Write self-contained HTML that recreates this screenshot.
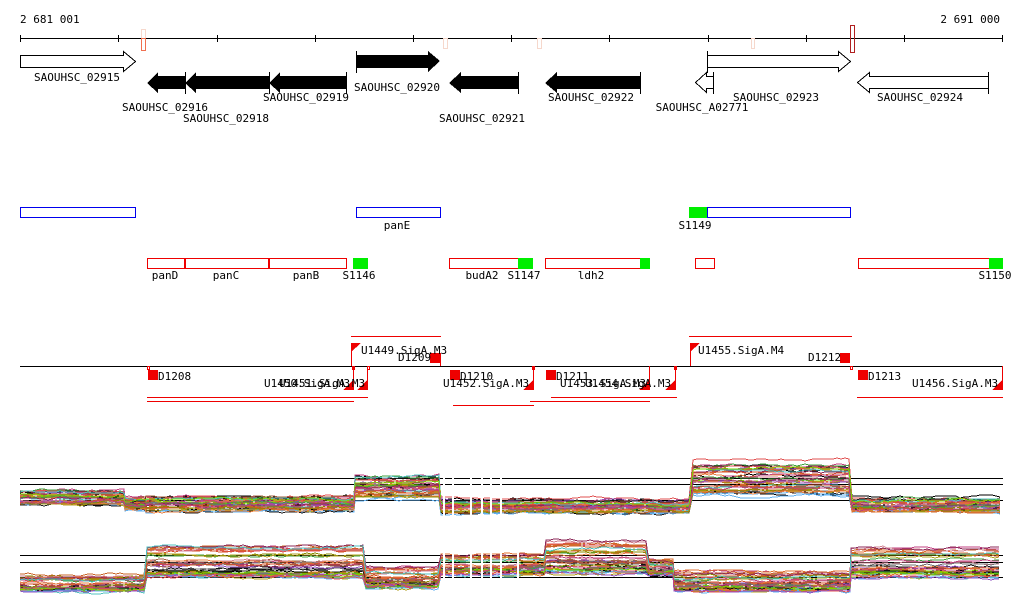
<!DOCTYPE html>
<html><head><meta charset="utf-8"><style>
html,body{margin:0;padding:0;background:#fff;width:1024px;height:611px;overflow:hidden}
svg{display:block}
text{font-family:"DejaVu Sans Mono","Liberation Mono",monospace;font-size:11px;fill:#000}
</style></head><body>
<svg id="s" width="1024" height="611" viewBox="0 0 1024 611" xmlns="http://www.w3.org/2000/svg" shape-rendering="crispEdges">
<text x="20" y="23">2 681 001</text>
<text x="1000" y="23" text-anchor="end">2 691 000</text>
<line x1="20" y1="38.5" x2="1003" y2="38.5" stroke="#000"/>
<g stroke="#000">
<line x1="20.5" y1="35" x2="20.5" y2="42"/><line x1="118.5" y1="35" x2="118.5" y2="42"/><line x1="217.5" y1="35" x2="217.5" y2="42"/><line x1="315.5" y1="35" x2="315.5" y2="42"/><line x1="413.5" y1="35" x2="413.5" y2="42"/><line x1="511.5" y1="35" x2="511.5" y2="42"/><line x1="609.5" y1="35" x2="609.5" y2="42"/><line x1="708.5" y1="35" x2="708.5" y2="42"/><line x1="806.5" y1="35" x2="806.5" y2="42"/><line x1="904.5" y1="35" x2="904.5" y2="42"/><line x1="1002.5" y1="35" x2="1002.5" y2="42"/>
</g>
<rect x="141.5" y="29.5" width="4" height="21" fill="none" stroke="#f6d8cc"/>
<rect x="141.5" y="38.5" width="4" height="12" fill="none" stroke="#f07050"/>
<rect x="443.5" y="38.5" width="4" height="10" fill="none" stroke="#f6d8cc"/>
<rect x="537.5" y="38.5" width="4" height="10" fill="none" stroke="#f6d8cc"/>
<rect x="751.5" y="38.5" width="3" height="10" fill="none" stroke="#f6d8cc"/>
<rect x="850.5" y="25.5" width="4" height="27" fill="none" stroke="#b02020"/>
<g stroke="#000" fill="#fff">
<polygon points="20.5,55.5 123.5,55.5 123.5,51.5 135.5,61.5 123.5,71.5 123.5,67.5 20.5,67.5"/>
<polygon points="707.5,55.5 838.5,55.5 838.5,51.5 850.5,61.5 838.5,71.5 838.5,67.5 707.5,67.5"/>
<polygon points="713.5,76.5 706.5,76.5 706.5,72.5 695.5,82.5 706.5,92.5 706.5,88.5 713.5,88.5"/>
<polygon points="988.5,76.5 869.5,76.5 869.5,72.5 857.5,82.5 869.5,92.5 869.5,88.5 988.5,88.5"/>
</g>
<g fill="#000">
<polygon points="356,55 428,55 428,51 440,61 428,72 428,68 356,68"/>
<polygon points="185,76 158,76 158,72 147,83 158,93 158,89 185,89"/>
<polygon points="269,76 196,76 196,72 185,83 196,93 196,89 269,89"/>
<polygon points="346,76 280,76 280,72 269,83 280,93 280,89 346,89"/>
<polygon points="518,76 461,76 461,72 449,83 461,93 461,89 518,89"/>
<polygon points="640,76 557,76 557,72 545,83 557,93 557,89 640,89"/>
</g>
<g stroke="#000">
<line x1="356.5" y1="51" x2="356.5" y2="73"/><line x1="707.5" y1="51" x2="707.5" y2="73"/><line x1="713.5" y1="72" x2="713.5" y2="94"/>
<line x1="346.5" y1="72" x2="346.5" y2="94"/><line x1="518.5" y1="72" x2="518.5" y2="94"/><line x1="640.5" y1="72" x2="640.5" y2="94"/><line x1="988.5" y1="72" x2="988.5" y2="94"/>
<line x1="185.5" y1="72" x2="185.5" y2="94"/><line x1="269.5" y1="72" x2="269.5" y2="94"/>
</g>
<g text-anchor="middle">
<text x="77" y="81">SAOUHSC_02915</text>
<text x="165" y="111">SAOUHSC_02916</text>
<text x="226" y="122">SAOUHSC_02918</text>
<text x="306" y="101">SAOUHSC_02919</text>
<text x="397" y="91">SAOUHSC_02920</text>
<text x="482" y="122">SAOUHSC_02921</text>
<text x="591" y="101">SAOUHSC_02922</text>
<text x="702" y="111">SAOUHSC_A02771</text>
<text x="776" y="101">SAOUHSC_02923</text>
<text x="920" y="101">SAOUHSC_02924</text>
</g>
<g fill="none" stroke="#0000ee">
<rect x="20.5" y="207.5" width="115" height="10"/>
<rect x="356.5" y="207.5" width="84" height="10"/>
<rect x="707.5" y="207.5" width="143" height="10"/>
</g>
<rect x="689" y="207" width="18" height="11" fill="#00ee00"/>
<g fill="none" stroke="#ee0000">
<rect x="147.5" y="258.5" width="37" height="10"/><rect x="185.5" y="258.5" width="83" height="10"/><rect x="269.5" y="258.5" width="77" height="10"/>
<rect x="449.5" y="258.5" width="69" height="10"/><rect x="545.5" y="258.5" width="95" height="10"/>
<rect x="695.5" y="258.5" width="19" height="10"/><rect x="858.5" y="258.5" width="131" height="10"/>
</g>
<g fill="#00ee00">
<rect x="353" y="258" width="15" height="11"/><rect x="518" y="258" width="15" height="11"/><rect x="640" y="258" width="10" height="11"/><rect x="989" y="258" width="14" height="11"/>
</g>
<g text-anchor="middle">
<text x="397" y="229">panE</text><text x="695" y="229">S1149</text>
<text x="165" y="279">panD</text><text x="226" y="279">panC</text><text x="306" y="279">panB</text><text x="359" y="279">S1146</text>
<text x="482" y="279">budA2</text><text x="524" y="279">S1147</text><text x="591" y="279">ldh2</text><text x="995" y="279">S1150</text>
</g>
<line x1="20" y1="366.5" x2="1003" y2="366.5" stroke="#000"/>
<g stroke="#ee0000" fill="none">
<line x1="351" y1="336.5" x2="441" y2="336.5"/><line x1="689" y1="336.5" x2="852" y2="336.5"/>
<line x1="147" y1="397.5" x2="368" y2="397.5"/><line x1="147" y1="401.5" x2="354" y2="401.5"/>
<line x1="453" y1="405.5" x2="534" y2="405.5"/><line x1="551" y1="397.5" x2="677" y2="397.5"/><line x1="530" y1="401.5" x2="650" y2="401.5"/>
<line x1="857" y1="397.5" x2="1003" y2="397.5"/>
<line x1="351.5" y1="345" x2="351.5" y2="366"/><line x1="440.5" y1="353" x2="440.5" y2="366"/>
<line x1="690.5" y1="345" x2="690.5" y2="366"/>
<line x1="353.5" y1="366" x2="353.5" y2="390"/><line x1="367.5" y1="366" x2="367.5" y2="390"/>
<line x1="533.5" y1="366" x2="533.5" y2="390"/><line x1="649.5" y1="366" x2="649.5" y2="390"/><line x1="675.5" y1="366" x2="675.5" y2="390"/><line x1="1002.5" y1="366" x2="1002.5" y2="390"/>
<rect x="147.5" y="366.5" width="2" height="3"/><rect x="367.5" y="366.5" width="2" height="3"/><rect x="850.5" y="366.5" width="2" height="3"/><rect x="674.5" y="366.5" width="2" height="3"/>
</g>
<g fill="#ee0000">
<rect x="148" y="370" width="10" height="10"/><rect x="430" y="353" width="10" height="10"/><rect x="450" y="370" width="10" height="10"/>
<rect x="546" y="370" width="10" height="10"/><rect x="840" y="353" width="10" height="10"/><rect x="858" y="370" width="10" height="10"/>
<polygon points="351,343 361,343 351,352"/><polygon points="690,343 700,343 690,352"/>
<polygon points="353,380 353,390 343,390"/><polygon points="367,380 367,390 357,390"/><polygon points="533,380 533,390 523,390"/>
<polygon points="649,380 649,390 639,390"/><polygon points="675,380 675,390 665,390"/><polygon points="1002,380 1002,390 992,390"/>
<rect x="352" y="366" width="3" height="4"/><rect x="532" y="366" width="3" height="4"/>
</g>
<text x="361" y="354">U1449.SigA.M3</text>
<text x="398" y="361">D1209</text>
<text x="158" y="380">D1208</text>
<text x="264" y="387">U1450.SigA.M3</text><text x="279" y="387">U1451.SigA.M3</text>
<text x="460" y="380">D1210</text>
<text x="443" y="387">U1452.SigA.M3</text>
<text x="556" y="380">D1211</text>
<text x="560" y="387">U1453.SigA.M3</text><text x="585" y="387">U1454.SigA.M3</text>
<text x="698" y="354">U1455.SigA.M4</text>
<text x="808" y="361">D1212</text>
<text x="868" y="380">D1213</text>
<text x="912" y="387">U1456.SigA.M3</text>
<g id="plots"></g>
</svg>
<script>
(function(){
var g=document.getElementById('plots');var NS='http://www.w3.org/2000/svg';
var seed=7;function r(){seed=(seed*16807)%2147483647;return (seed-1)/2147483646;}
var cols=['#d4502a','#8a8a00','#7fd000','#c04080','#e07030','#60b0f0','#a06040','#202020','#e05050','#b0a020','#9050c0','#d08090','#40a040','#c86428','#8c2a5a','#e88040','#707070','#50c0c0'];
function panel(segs,lines,gapX){
 lines.forEach(function(y){var l=document.createElementNS(NS,'line');l.setAttribute('x1',20);l.setAttribute('x2',1003);l.setAttribute('y1',y+.5);l.setAttribute('y2',y+.5);l.setAttribute('stroke','#000');g.appendChild(l);});
 for(var k=0;k<40;k++){
  var f=r(),pts=[],c=k<3?'#000':cols[k%cols.length];
  var off=0;
  for(var s=0;s<segs.length;s++){
   var sg=segs[s];var ff=Math.min(1,Math.max(0,f*0.8+r()*0.2));
   for(var x=sg[0];x<sg[1];x+=4){off+=(r()-.5)*2.2;off*=0.85;
    var y=sg[2]+(sg[3]-sg[2])*Math.pow(ff,0.8)+off;
    pts.push(x+','+y.toFixed(0));}
  }
  var p=document.createElementNS(NS,'polyline');p.setAttribute('points',pts.join(' '));p.setAttribute('fill','none');p.setAttribute('stroke',c);p.setAttribute('stroke-width','1');p.setAttribute('shape-rendering','crispEdges');g.appendChild(p);
 }
 gapX.forEach(function(x){var rc=document.createElementNS(NS,'rect');rc.setAttribute('x',x);rc.setAttribute('y',lines[0]-30);rc.setAttribute('width',2);rc.setAttribute('height',70);rc.setAttribute('fill','#fff');g.appendChild(rc);});
}
panel([[20,125,488,508],[125,146,495,511],[146,355,494,513],[355,441,472,501],[441,693,498,515],[693,852,458,501],[852,1004,496,514]],[478,484,500],[443,452,470,481,490,500]);
panel([[20,147,572,593],[147,366,540,581],[366,441,566,589],[441,520,551,576],[520,546,551,576],[546,649,537,576],[649,674,556,578],[674,851,569,593],[851,1001,542,581]],[555,562,577],[443,452,470,481,490,500,517]);
})();
</script>
</body></html>
